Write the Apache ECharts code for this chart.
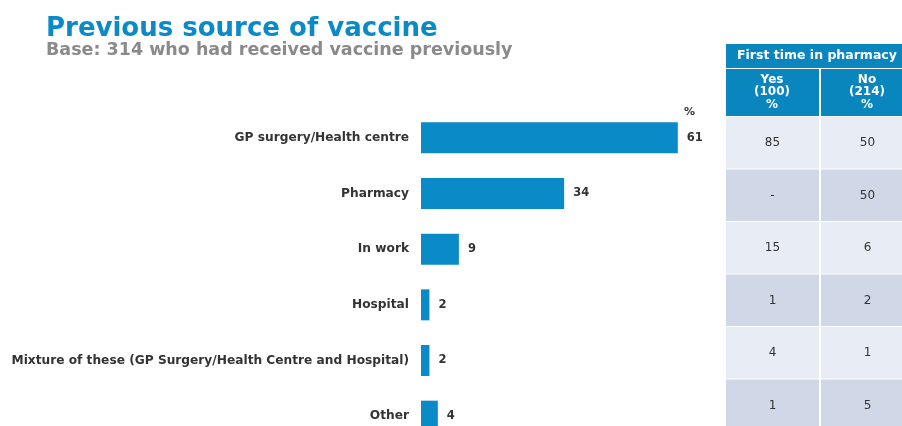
<!DOCTYPE html>
<html><head><meta charset="utf-8">
<script src="https://cdn.jsdelivr.net/npm/echarts@6/dist/echarts.min.js"></script>
<style>html,body{margin:0;padding:0;background:#fff;overflow:hidden}#c{width:1000px;height:500px}</style>
</head><body><div id="c"></div>
<script>
const categories = ['GP surgery/Health centre', 'Pharmacy', 'In work', 'Hospital', 'Mixture of these (GP Surgery/Health Centre and Hospital)', 'Other'];
const values = [61, 34, 9, 2, 2, 4];
const tableColumns = ['Yes', 'No'];
const tableBases = [100, 214];
const tableYes = ['85', '-', '15', '1', '4', '1'];
const tableNo = ['50', '50', '6', '2', '1', '5'];
const tableTitle = 'First time in pharmacy';
const titleText = 'Previous source of vaccine';
const subtitleText = 'Base: 314 who had received vaccine previously';

const FONT = '"DejaVu Sans", Verdana, sans-serif';
const BLUE = '#0A8AC6';
const HEAD = '#0A86BF';

const tableCells = [];
const tableTexts = [];
[tableYes, tableNo].forEach((col, ci) => col.forEach((t, ri) => { tableCells.push([ci, ri]); tableTexts.push(t); }));

const chart = echarts.init(document.getElementById('c'), null, {renderer: 'canvas'});
chart.setOption({
  animation: false,
  backgroundColor: '#fff',
  grid: [
    {left: 421, top: 110, width: 421, height: 334, containLabel: false},
    {left: 726, top: 117, width: 190, height: 315, containLabel: false}
  ],
  xAxis: [
    {gridIndex: 0, type: 'value', min: 0, max: 100, show: false},
    {gridIndex: 1, type: 'category', data: tableColumns, show: false}
  ],
  yAxis: [
    {gridIndex: 0, type: 'category', data: categories, inverse: true,
     axisLine: {show: false}, axisTick: {show: false}, splitLine: {show: false},
     axisLabel: {margin: 12, fontFamily: FONT, fontWeight: 'bold', fontSize: 12.2, color: '#333'}},
    {gridIndex: 1, type: 'category', data: categories, inverse: true, show: false}
  ],
  graphic: [
    {type: 'text', x: 46, y: 29.5, style: {text: titleText, font: 'bold 26px ' + FONT, fill: '#0B8AC8', verticalAlign: 'middle'}},
    {type: 'text', x: 46, y: 50.5, style: {text: subtitleText, font: 'bold 17.5px ' + FONT, fill: '#8a8a8a', verticalAlign: 'middle'}},
    {type: 'text', x: 684, y: 112, style: {text: '%', font: 'bold 11px ' + FONT, fill: '#333', verticalAlign: 'middle'}},
    {type: 'rect', shape: {x: 726, y: 44, width: 190, height: 24}, style: {fill: HEAD}},
    {type: 'text', x: 737, y: 56, style: {text: tableTitle, font: 'bold 12.5px ' + FONT, fill: '#fff', verticalAlign: 'middle'}},
    {type: 'rect', shape: {x: 726, y: 69, width: 93, height: 47}, style: {fill: HEAD}},
    {type: 'rect', shape: {x: 821, y: 69, width: 95, height: 47}, style: {fill: HEAD}},
    {type: 'text', x: 772, y: 92, style: {text: tableColumns[0] + '\n(' + tableBases[0] + ')\n%', font: 'bold 12px ' + FONT, fill: '#fff', align: 'center', verticalAlign: 'middle', lineHeight: 12.5}},
    {type: 'text', x: 867, y: 92, style: {text: tableColumns[1] + '\n(' + tableBases[1] + ')\n%', font: 'bold 12px ' + FONT, fill: '#fff', align: 'center', verticalAlign: 'middle', lineHeight: 12.5}}
  ],
  series: [
    {type: 'bar', xAxisIndex: 0, yAxisIndex: 0, data: values, barWidth: 31,
     itemStyle: {color: BLUE},
     label: {show: true, position: 'right', distance: 9, fontFamily: FONT, fontWeight: 'bold', fontSize: 11.5, color: '#333'}},
    {type: 'custom', xAxisIndex: 1, yAxisIndex: 1, data: tableCells,
     renderItem: function (params, api) {
       const c = api.coord([api.value(0), api.value(1)]);
       const s = api.size([1, 1]);
       const r = api.value(1);
       return {type: 'group', children: [
         {type: 'rect', shape: {x: c[0] - s[0] / 2, y: c[1] - s[1] / 2, width: s[0] - 2, height: s[1] - 1},
          style: {fill: r % 2 ? '#D0D8E7' : '#E8ECF4'}},
         {type: 'text', style: {text: tableTexts[params.dataIndex], x: c[0] - 1, y: c[1], align: 'center', verticalAlign: 'middle',
          fill: '#333', font: '12px ' + FONT}}
       ]};
     }}
  ]
});
</script></body></html>
